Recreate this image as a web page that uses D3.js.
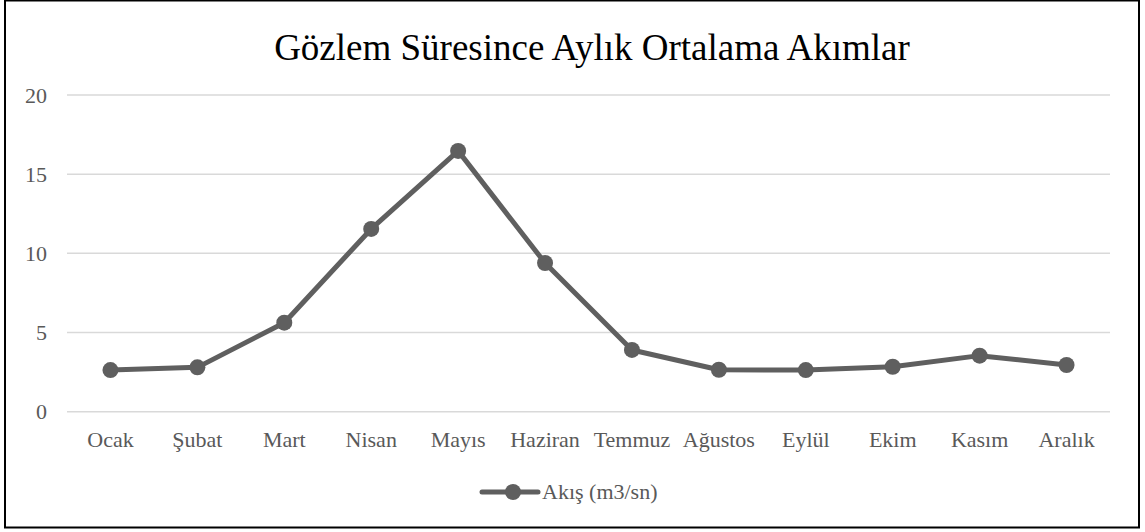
<!DOCTYPE html>
<html>
<head>
<meta charset="utf-8">
<script src="https://cdn.jsdelivr.net/npm/d3@7"></script>
<style>
  body { margin: 0; background: #fff; }
  svg { display: block; font-family: "Liberation Serif", "Times New Roman", serif; }
</style>
</head>
<body>
<svg id="chart" width="1145" height="532"></svg>
<script>
var months = ["Ocak", "Şubat", "Mart", "Nisan", "Mayıs", "Haziran", "Temmuz", "Ağustos", "Eylül", "Ekim", "Kasım", "Aralık"];
var flows = [2.63, 2.8, 5.62, 11.54, 16.47, 9.39, 3.9, 2.65, 2.63, 2.84, 3.54, 2.95];
var yTicks = [0, 5, 10, 15, 20];
var seriesName = "Akış (m3/sn)";
var title = "Gözlem Süresince Aylık Ortalama Akımlar";

var plotLeft = 67, plotRight = 1110, plotTop = 95, plotBottom = 411.7;
var lineColor = "#5f5f5f";
var textColor = "#595959";

var svg = d3.select("#chart");

// outer frame
svg.append("rect")
    .attr("x", 5).attr("y", 0.5)
    .attr("width", 1134).attr("height", 527)
    .attr("fill", "white")
    .attr("stroke", "black")
    .attr("stroke-width", 2);

svg.append("text")
    .attr("x", 592)
    .attr("y", 60)
    .attr("text-anchor", "middle")
    .attr("font-size", 37)
    .attr("fill", "black")
    .text(title);

var x = d3.scaleBand()
    .domain(months)
    .range([plotLeft, plotRight]);

var y = d3.scaleLinear()
    .domain([0, 20])
    .range([plotBottom, plotTop]);

// gridlines
svg.append("g")
    .selectAll("line")
    .data(yTicks)
    .enter()
    .append("line")
    .attr("x1", plotLeft).attr("x2", plotRight)
    .attr("y1", function (d) { return y(d); })
    .attr("y2", function (d) { return y(d); })
    .attr("stroke", "#d9d9d9")
    .attr("stroke-width", 1.5);

var yAxis = svg.append("g")
    .attr("transform", "translate(" + plotLeft + ",0)")
    .call(d3.axisLeft(y).tickValues(yTicks).tickSize(0).tickPadding(20));
yAxis.select(".domain").remove();
yAxis.selectAll("text")
    .attr("font-family", "Liberation Serif")
    .attr("font-size", 22)
    .attr("fill", textColor);

var xAxis = svg.append("g")
    .attr("transform", "translate(0," + plotBottom + ")")
    .call(d3.axisBottom(x).tickSize(0).tickPadding(20));
xAxis.select(".domain").remove();
xAxis.selectAll("text")
    .attr("font-family", "Liberation Serif")
    .attr("font-size", 22)
    .attr("fill", textColor);

var line = d3.line()
    .x(function (d, i) { return x(months[i]) + x.bandwidth() / 2; })
    .y(function (d) { return y(d); });

svg.append("path")
    .datum(flows)
    .attr("d", line)
    .attr("fill", "none")
    .attr("stroke", lineColor)
    .attr("stroke-width", 5)
    .attr("stroke-linejoin", "round");

svg.selectAll("circle.pt")
    .data(flows)
    .enter()
    .append("circle")
    .attr("class", "pt")
    .attr("cx", function (d, i) { return x(months[i]) + x.bandwidth() / 2; })
    .attr("cy", function (d) { return y(d); })
    .attr("r", 8)
    .attr("fill", lineColor);

// legend
var legend = svg.append("g").attr("transform", "translate(482,492)");
legend.append("line")
    .attr("x1", 0).attr("x2", 56)
    .attr("y1", 0).attr("y2", 0)
    .attr("stroke", lineColor)
    .attr("stroke-width", 5)
    .attr("stroke-linecap", "round");
legend.append("circle")
    .attr("cx", 31).attr("cy", 0).attr("r", 8)
    .attr("fill", lineColor);
legend.append("text")
    .attr("x", 60).attr("y", 7)
    .attr("font-size", 22)
    .attr("fill", textColor)
    .text(seriesName);
</script>
</body>
</html>
